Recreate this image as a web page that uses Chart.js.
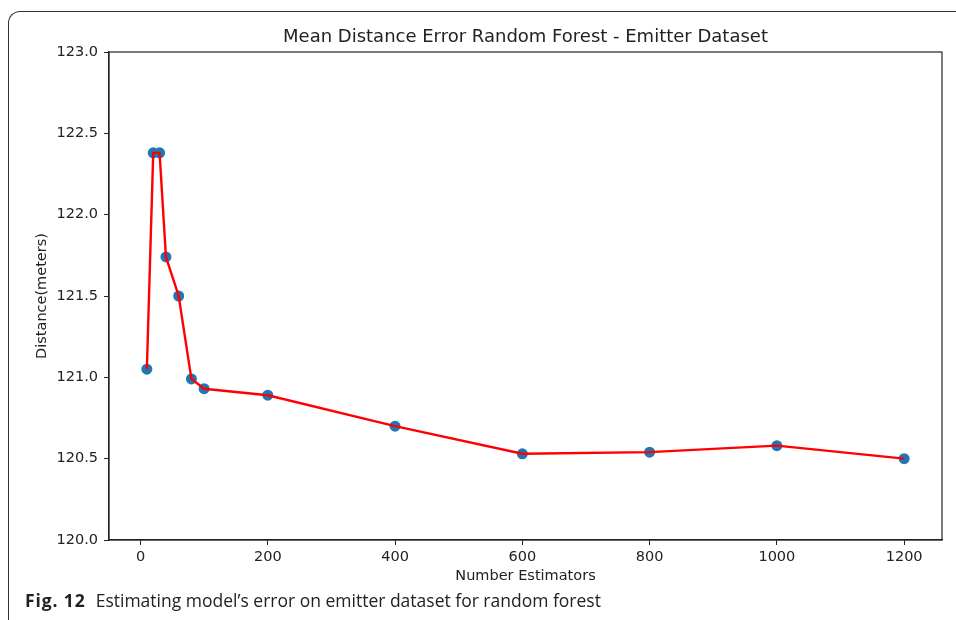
<!DOCTYPE html>
<html>
<head>
<meta charset="utf-8">
<script src="https://cdn.jsdelivr.net/npm/chart.js@4/dist/chart.umd.min.js"></script>
<style>
  body { margin: 0; background: #fff; }
  #wrap { position: relative; width: 956px; height: 620px; overflow: hidden; }
  #frame {
    position: absolute; left: 8px; top: 11px; width: 1000px; height: 700px;
    border-left: 1.5px solid #333; border-top: 1.5px solid #333;
    border-top-left-radius: 12px; pointer-events: none;
  }
  #caption {
    position: absolute; left: 25px; top: 588px;
    font-family: "Open Sans", sans-serif; font-size: 17.5px; color: #222;
    white-space: nowrap;
  }
  #caption b { font-weight: 700; letter-spacing: 0.9px; margin-right: 10px; }
</style>
</head>
<body>
<div id="wrap">
  <canvas id="grafico"></canvas>
  <div id="frame"></div>
  <div id="caption"><b>Fig. 12</b>Estimating model’s error on emitter dataset for random forest</div>
</div>
<script>
const estimadores = [10, 20, 30, 40, 60, 80, 100, 200, 400, 600, 800, 1000, 1200]
const distancias = [121.05, 122.38, 122.38, 121.74, 121.50, 120.99, 120.93, 120.89, 120.70, 120.53, 120.54, 120.58, 120.50]
const ticksX = [0, 200, 400, 600, 800, 1000, 1200]
const ticksY = [120.0, 120.5, 121.0, 121.5, 122.0, 122.5, 123.0]

const puntos = estimadores.map((x, i) => ({ x: x, y: distancias[i] }))
const fuente = "'DejaVu Sans', sans-serif"
const tinta = '#222'

// marco arriba y a la derecha (los ejes ya dibujan izq. y abajo)
const marco = {
  id: 'marco',
  afterDraw(chart) {
    const { ctx, chartArea: a } = chart
    ctx.save()
    ctx.strokeStyle = tinta
    ctx.lineWidth = 1.2
    ctx.strokeRect(a.left, a.top, a.right - a.left, a.bottom - a.top)
    ctx.restore()
  }
}

const ctx = document.getElementById('grafico')
new Chart(ctx, {
  type: 'scatter',
  data: {
    datasets: [{
      data: puntos,
      showLine: true,
      borderColor: '#ff0000',
      borderWidth: 2.4,
      pointRadius: 0,
      order: 0
    }, {
      data: puntos,
      showLine: false,
      pointRadius: 5.5,
      pointBackgroundColor: '#1f77b4',
      pointBorderWidth: 0,
      order: 1
    }]
  },
  options: {
    responsive: true,
    maintainAspectRatio: false,
    animation: false,
    layout: { padding: { left: 0, right: 14, top: 0, bottom: 0 } },
    plugins: {
      legend: { display: false },
      tooltip: { enabled: false },
      title: {
        display: true,
        fullSize: false,
        text: 'Mean Distance Error Random Forest - Emitter Dataset',
        color: tinta,
        font: { family: fuente, size: 18, weight: 'normal' },
        padding: { top: 26.5, bottom: 3.9 }
      }
    },
    scales: {
      x: {
        type: 'linear',
        min: -49.5,
        max: 1259.5,
        afterBuildTicks: (scale) => { scale.ticks = ticksX.map(v => ({ value: v })) },
        afterFit: (scale) => { scale.height = 80 },
        ticks: { color: tinta, font: { family: fuente, size: 14.5 }, padding: 4, maxRotation: 0, callback: (v) => String(v) },
        grid: { drawOnChartArea: false, tickLength: 5, color: tinta },
        border: { color: tinta, width: 1.2 },
        title: {
          display: true,
          text: 'Number Estimators',
          color: tinta,
          font: { family: fuente, size: 14.5 },
          padding: { top: 0, bottom: 35 }
        }
      },
      y: {
        min: 120,
        max: 123,
        afterBuildTicks: (scale) => { scale.ticks = ticksY.map(v => ({ value: v })) },
        afterFit: (scale) => { scale.width = 109 },
        ticks: { color: tinta, font: { family: fuente, size: 14.5 }, padding: 6, callback: (v) => v.toFixed(1) },
        grid: { drawOnChartArea: false, tickLength: 5, color: tinta },
        border: { color: tinta, width: 1.2 },
        title: {
          display: true,
          text: 'Distance(meters)',
          color: tinta,
          font: { family: fuente, size: 14.5 },
          padding: { top: 34, bottom: 0 }
        }
      }
    }
  },
  plugins: [marco]
})
</script>
</body>
</html>
